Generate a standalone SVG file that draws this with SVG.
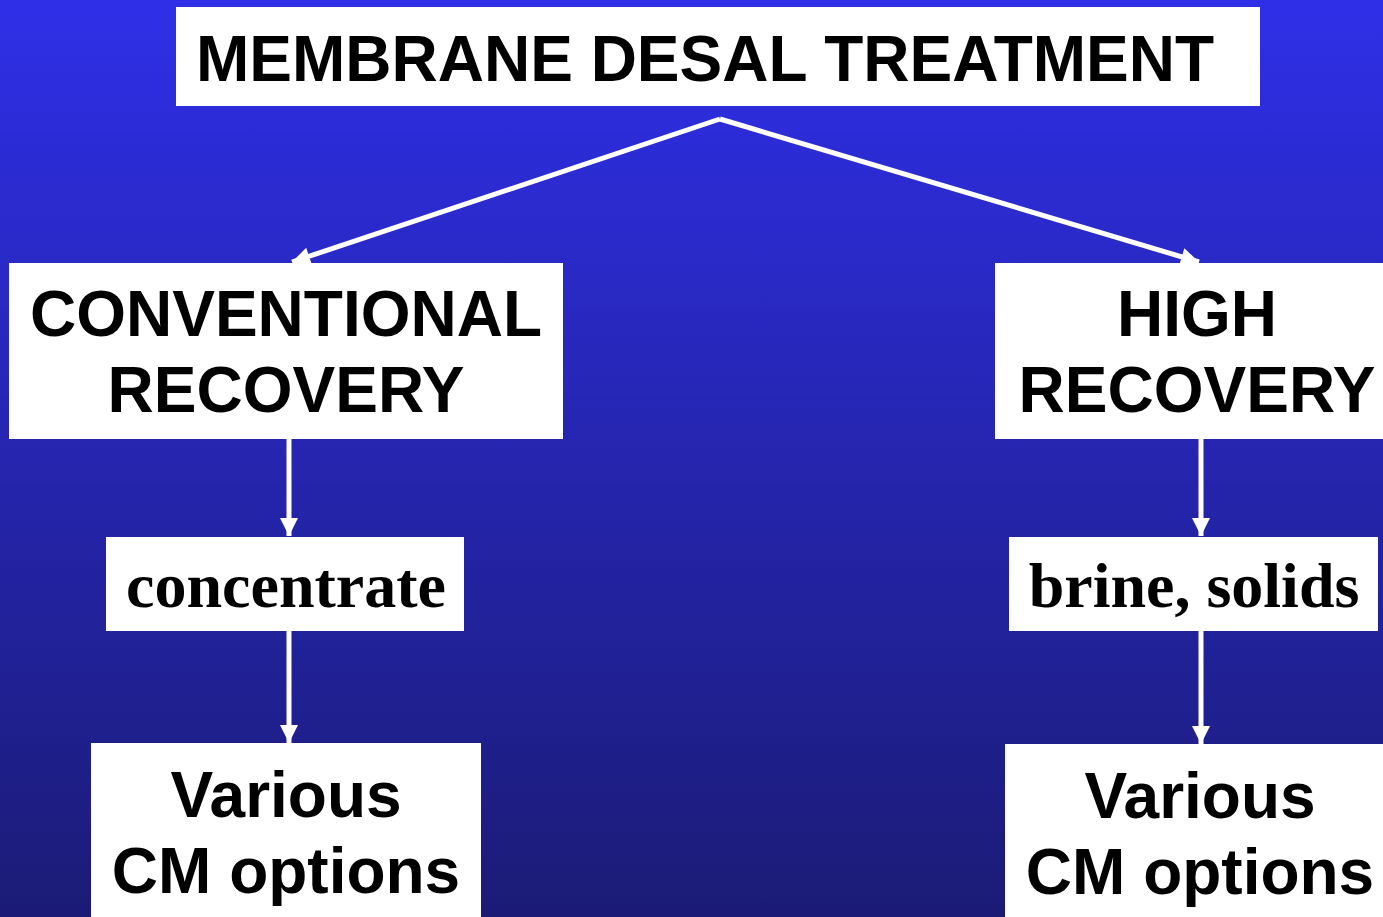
<svg xmlns="http://www.w3.org/2000/svg" width="1383" height="917" viewBox="0 0 1383 917">
<defs>
<linearGradient id="bg" x1="0" y1="0" x2="0" y2="1">
<stop offset="0" stop-color="#2F2FE8"/>
<stop offset="1" stop-color="#1B1B76"/>
</linearGradient>
<marker id="arr" viewBox="0 0 10 10" refX="10" refY="5" markerWidth="19" markerHeight="18" markerUnits="userSpaceOnUse" orient="auto">
<path d="M0,0 L10,5 L0,10 z" fill="#fff"/>
</marker>
</defs>
<style>
.box{fill:#fff}
.sans{font-family:"Liberation Sans",Arial,sans-serif;font-weight:bold;fill:#000;text-anchor:middle;font-size:64px}
.serif{font-family:"Liberation Serif","Times New Roman",serif;font-weight:bold;fill:#000;text-anchor:middle;font-size:64px}
.con{stroke:#fff;stroke-width:5;fill:none;marker-end:url(#arr)}
</style>
<rect width="1383" height="917" fill="url(#bg)"/>
<g id="connectors">
<path class="con" d="M720,119 L292,262"/>
<path class="con" d="M720,119 L1199,262"/>
<path class="con" d="M289,439 L289,536"/>
<path class="con" d="M289,631 L289,743"/>
<path class="con" d="M1201,439 L1201,536"/>
<path class="con" d="M1201,631 L1201,744"/>
</g>
<g id="top">
<rect class="box" x="176" y="7" width="1084" height="99"/>
<text class="sans" x="705" y="81">MEMBRANE DESAL TREATMENT</text>
</g>
<g id="conventional">
<rect class="box" x="9" y="263" width="554" height="176"/>
<text class="sans" x="286" y="336">CONVENTIONAL</text>
<text class="sans" x="286" y="412">RECOVERY</text>
</g>
<g id="high">
<rect class="box" x="995" y="263" width="388" height="176"/>
<text class="sans" x="1197" y="336">HIGH</text>
<text class="sans" x="1197" y="412">RECOVERY</text>
</g>
<g id="concentrate">
<rect class="box" x="106" y="537" width="358" height="94"/>
<text class="serif" x="286" y="607">concentrate</text>
</g>
<g id="brine">
<rect class="box" x="1009" y="537" width="369" height="94"/>
<text class="serif" x="1194" y="607">brine, solids</text>
</g>
<g id="various-left">
<rect class="box" x="91" y="743" width="390" height="174"/>
<text class="sans" x="286" y="817">Various</text>
<text class="sans" x="286" y="893">CM options</text>
</g>
<g id="various-right">
<rect class="box" x="1005" y="744" width="378" height="173"/>
<text class="sans" x="1200" y="818">Various</text>
<text class="sans" x="1200" y="894">CM options</text>
</g>
</svg>
